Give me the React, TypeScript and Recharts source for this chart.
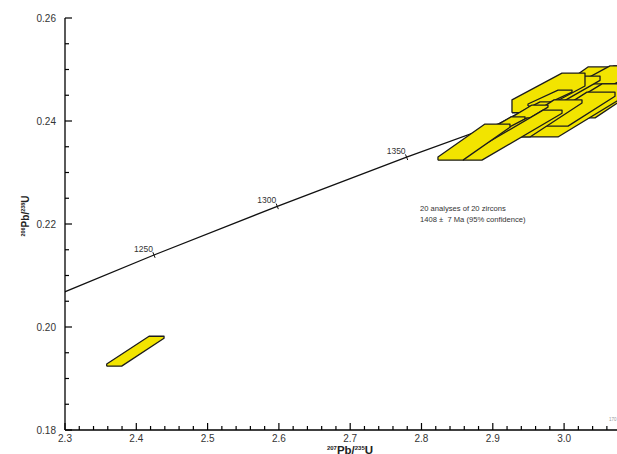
import React from 'react';
import { ComposedChart, XAxis, YAxis, Line, Scatter } from 'recharts';

const W = 617;
const H = 454;
const FONT = '"Liberation Sans", Arial, Helvetica, sans-serif';
const YELLOW = '#f2e400';
const EDGE = '#1c1c1c';

// axis ticks
const xTicks = [
  2.3, 2.32, 2.34, 2.36, 2.38, 2.4, 2.42, 2.44, 2.46, 2.48, 2.5, 2.52, 2.54,
  2.56, 2.58, 2.6, 2.62, 2.64, 2.66, 2.68, 2.7, 2.72, 2.74, 2.76, 2.78, 2.8,
  2.82, 2.84, 2.86, 2.88, 2.9, 2.92, 2.94, 2.96, 2.98, 3.0, 3.02, 3.04, 3.06,
];
const xMajor = [2.3, 2.4, 2.5, 2.6, 2.7, 2.8, 2.9, 3.0];
const xMajorLabels = ['2.3', '2.4', '2.5', '2.6', '2.7', '2.8', '2.9', '3.0'];
const yTicks = [
  0.18, 0.185, 0.19, 0.195, 0.2, 0.205, 0.21, 0.215, 0.22, 0.225, 0.23, 0.235,
  0.24, 0.245, 0.25, 0.255, 0.26,
];
const yMajor = [0.18, 0.2, 0.22, 0.24, 0.26];
const yMajorLabels = ['0.18', '0.20', '0.22', '0.24', '0.26'];

// concordia curve
const concX = [2.2604, 2.4248, 2.5977, 2.7791, 2.97, 3.1705];
const concY = [0.20459, 0.21398, 0.22343, 0.23297, 0.24258, 0.25225];

// age marks on the concordia
const ageLabels = ['1250', '1300', '1350'];
const ageX = [2.4248, 2.5977, 2.7791];
const ageY = [0.21398, 0.22343, 0.23297];

// note
const noteX = [2.798];
const noteY = [0.2226];
const noteLines = ['20 analyses of 20 zircons', '1408 \u00b1  7 Ma (95% confidence)'];

// error boxes (back to front): x range, y range, edge length a, side length b
const boxX1 = [2.3585, 3.0335, 3.0195, 2.9522, 3.0013, 2.9943, 2.9872, 2.9522, 2.9381, 2.9381, 2.9269, 2.9662, 2.9494, 2.9101, 2.9129, 2.9059, 2.8905, 2.8961, 2.8582, 2.8231];
const boxX2 = [2.4389, 3.1415, 3.1345, 3.0812, 3.1205, 3.1065, 3.1065, 3.0812, 3.1065, 3.0504, 3.0293, 3.0714, 3.0111, 2.9943, 3.0251, 2.9774, 2.9452, 2.9732, 2.9971, 2.9241];
const boxY1 = [0.1924, 0.2449, 0.2433, 0.2417, 0.2406, 0.2449, 0.2441, 0.2398, 0.2369, 0.2421, 0.2416, 0.239, 0.2429, 0.239, 0.2369, 0.2386, 0.2375, 0.2365, 0.2324, 0.2324];
const boxY2 = [0.1982, 0.2505, 0.2503, 0.2505, 0.2483, 0.2507, 0.2507, 0.2472, 0.2472, 0.2487, 0.2493, 0.2456, 0.246, 0.2437, 0.2441, 0.2431, 0.2408, 0.2406, 0.2421, 0.2394];
const boxA = [0.021, 0.0365, 0.0421, 0.0477, 0.0421, 0.0365, 0.0421, 0.0421, 0.0533, 0.0393, 0.0323, 0.0393, 0.0196, 0.0281, 0.0393, 0.0224, 0.0196, 0.0252, 0.0266, 0.0351];
const boxB = [0.0004, 0.0006, 0.0008, 0.0008, 0.0006, 0.0006, 0.0008, 0.0008, 0.0006, 0.0008, 0.0025, 0.0008, 0.0004, 0.0006, 0.0006, 0.0004, 0.0004, 0.0004, 0.0006, 0.0006];

const concordia = concX.map((x, i) => ({ x, y: concY[i] }));
const ageMarks = ageX.map((x, i) => ({ x, y: ageY[i], label: ageLabels[i] }));
const note = noteX.map((x, i) => ({ x, y: noteY[i] }));
const boxes = boxX1.map((x1, i) => {
  const x2 = boxX2[i];
  const y1 = boxY1[i];
  const y2 = boxY2[i];
  const a = boxA[i];
  const b = boxB[i];
  return [
    { x: x1, y: y1 },
    { x: x1 + a, y: y1 },
    { x: x2, y: y2 - b },
    { x: x2, y: y2 },
    { x: x2 - a, y: y2 },
    { x: x1, y: y1 + b },
    { x: x1, y: y1 },
  ];
});

const find = (v: number, list: number[]) => list.findIndex((m) => Math.abs(m - v) < 1e-6);

const BottomTick = ({ x, y, payload }: any) => {
  const i = find(payload.value, xMajor);
  return (
    <g>
      <line x1={x} x2={x} y1={y} y2={y - (i >= 0 ? 7 : 4)} stroke="#000" strokeWidth={1.2} />
      {i >= 0 && (
        <text x={x} y={y + 11.5} textAnchor="middle" fontSize={10} fill="#333" fontFamily={FONT}>
          {xMajorLabels[i]}
        </text>
      )}
    </g>
  );
};

const TopTick = ({ x, y, payload }: any) => {
  const i = find(payload.value, xMajor);
  return <line x1={x} x2={x} y1={y} y2={y + (i >= 0 ? 6 : 4)} stroke="#000" strokeWidth={1.2} />;
};

const LeftTick = ({ x, y, payload }: any) => {
  const i = find(payload.value, yMajor);
  return (
    <g>
      <line x1={x} x2={x + (i >= 0 ? 7 : 4)} y1={y} y2={y} stroke="#000" strokeWidth={1.2} />
      {i >= 0 && (
        <text x={x - 9} y={y + 3.5} textAnchor="end" fontSize={10} fill="#333" fontFamily={FONT}>
          {yMajorLabels[i]}
        </text>
      )}
    </g>
  );
};

const AgeMark = ({ cx, cy, payload }: any) => (
  <g>
    <line x1={cx - 1.1} y1={cy - 2.8} x2={cx + 1.1} y2={cy + 2.8} stroke="#111" strokeWidth={1} />
    <text x={cx - 1} y={cy - 3.5} textAnchor="end" fontSize={8.5} fill="#333" fontFamily={FONT}>
      {payload.label}
    </text>
  </g>
);

const Note = ({ cx, cy }: any) => (
  <g>
    {noteLines.map((t, i) => (
      <text key={i} x={cx} y={cy + i * 11} fontSize={7.6} fill="#333" fontFamily={FONT} style={{ whiteSpace: 'pre' }}>
        {t}
      </text>
    ))}
  </g>
);

const axisLine = { stroke: '#000', strokeWidth: 1.3 };

export default function App() {
  return (
    <div style={{ position: 'relative', width: W, height: H, overflow: 'hidden', background: '#fff' }}>
      <style>{'body{margin:0;background:#fff}'}</style>
      <ComposedChart width={W} height={H} margin={{ top: 18, right: 0, bottom: 0, left: 0 }}>
        <XAxis
          xAxisId="t"
          orientation="top"
          type="number"
          dataKey="x"
          domain={[2.3, 3.0742]}
          allowDataOverflow
          ticks={xTicks}
          interval={0}
          height={0}
          tickSize={0}
          tickMargin={0}
          tickLine={false}
          axisLine={axisLine}
          tick={(p: any) => <TopTick {...p} />}
        />
        <XAxis
          xAxisId="b"
          type="number"
          dataKey="x"
          domain={[2.3, 3.0742]}
          allowDataOverflow
          ticks={xTicks}
          interval={0}
          height={24}
          tickSize={0}
          tickMargin={0}
          tickLine={false}
          axisLine={axisLine}
          tick={(p: any) => <BottomTick {...p} />}
        />
        <YAxis
          type="number"
          dataKey="y"
          domain={[0.18, 0.26]}
          allowDataOverflow
          ticks={yTicks}
          interval={0}
          width={65}
          tickSize={0}
          tickMargin={0}
          tickLine={false}
          axisLine={axisLine}
          tick={(p: any) => <LeftTick {...p} />}
        />
        <Line
          xAxisId="b"
          data={concordia}
          dataKey="y"
          type="monotone"
          stroke="#111"
          strokeWidth={1.3}
          dot={false}
          activeDot={false}
          isAnimationActive={false}
        />
        <Scatter
          xAxisId="b"
          data={ageMarks}
          dataKey="y"
          shape={(p: any) => <AgeMark {...p} />}
          isAnimationActive={false}
        />
        <Scatter
          xAxisId="b"
          data={note}
          dataKey="y"
          shape={(p: any) => <Note {...p} />}
          isAnimationActive={false}
        />
        {boxes.map((pts, i) => (
          <Scatter
            key={i}
            xAxisId="b"
            data={pts}
            dataKey="y"
            line={{ stroke: EDGE, strokeWidth: 1.3, fill: YELLOW, strokeLinejoin: 'round' }}
            lineType="joint"
            lineJointType="linear"
            shape={() => <g />}
            isAnimationActive={false}
          />
        ))}
      </ComposedChart>
      <svg width={W} height={H} style={{ position: 'absolute', left: 0, top: 0, pointerEvents: 'none' }}>
        <text x={350} y={453.5} textAnchor="middle" fontFamily={FONT} fontWeight="bold" fill="#222">
          <tspan fontSize={6} dy={-3.8}>207</tspan>
          <tspan fontSize={11.5} dy={3.8}>Pb/</tspan>
          <tspan fontSize={6} dy={-3.8}>235</tspan>
          <tspan fontSize={11.5} dy={3.8}>U</tspan>
        </text>
        <g transform="translate(29,216) rotate(-90)">
          <text x={0} y={0} textAnchor="middle" fontFamily={FONT} fontWeight="bold" fill="#222">
            <tspan fontSize={5.5} dy={-4}>206</tspan>
            <tspan fontSize={10} dy={4}>Pb/</tspan>
            <tspan fontSize={5.5} dy={-4}>238</tspan>
            <tspan fontSize={10} dy={4}>U</tspan>
          </text>
        </g>
        <text x={609} y={421} fontSize={4.5} fill="#999" fontFamily={FONT}>170</text>
      </svg>
    </div>
  );
}
